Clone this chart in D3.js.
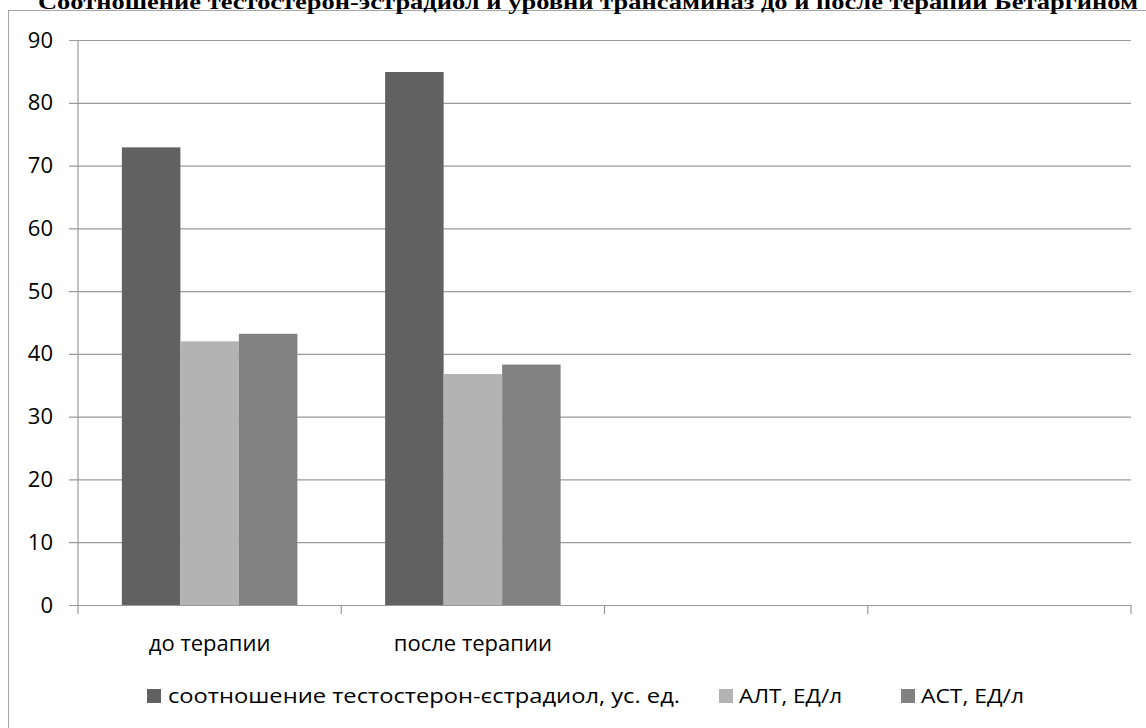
<!DOCTYPE html>
<html>
<head>
<meta charset="utf-8">
<script src="https://cdn.jsdelivr.net/npm/d3@7"></script>
<style>
  html, body { margin: 0; padding: 0; background: #fff; }
  svg { display: block; }
</style>
</head>
<body>
<script>
const titleText = "Соотношение тестостерон-эстрадиол и уровни трансаминаз до и после терапии Бетаргином";
const categories = ["до терапии", "после терапии", "", ""];
const seriesNames = ["соотношение тестостерон-єстрадиол, ус. ед.", "АЛТ, ЕД/л", "АСТ, ЕД/л"];
const ratioValues = [72.9, 84.9, null, null];
const altValues = [42.0, 36.8, null, null];
const astValues = [43.2, 38.3, null, null];
const yTicks = [0, 10, 20, 30, 40, 50, 60, 70, 80, 90];
const seriesColors = ["#616161", "#b3b3b3", "#818181"];

const W = 1146, H = 728;
const svg = d3.select("body").append("svg").attr("width", W).attr("height", H);

// outer chart border
svg.append("rect").attr("x", 8.5).attr("y", 10.5).attr("width", 1150).attr("height", 730)
  .attr("fill", "none").attr("stroke", "#a6a6a6").attr("stroke-width", 1);

// title (cut at the top, as in the reference)
svg.append("text").attr("x", 38).attr("y", 9)
  .attr("font-family", "Liberation Serif, Times New Roman, serif")
  .attr("font-weight", "bold").attr("font-size", 22)
  .attr("textLength", 1100).attr("lengthAdjust", "spacingAndGlyphs")
  .attr("fill", "#000").text(titleText);

const plotL = 78, plotR = 1131, plotT = 40, plotB = 605;
const y = d3.scaleLinear().domain([0, 90]).range([plotB, plotT]);
const x0 = d3.scaleBand().domain(d3.range(categories.length)).range([plotL, plotR]).padding(0);
const x1 = d3.scaleBand().domain(d3.range(seriesNames.length)).range([0, x0.bandwidth()])
  .paddingInner(0).paddingOuter(0.75);

// gridlines + y ticks
const yAxis = d3.axisLeft(y).tickValues(yTicks).tickSize(-(plotR - plotL)).tickSizeOuter(0).tickPadding(25);
const gy = svg.append("g").attr("transform", `translate(${plotL},0)`).call(yAxis);
gy.select(".domain").remove();
gy.selectAll(".tick line").attr("stroke", "#9a9a9a").attr("stroke-width", 1.2).attr("x1", -9);
gy.selectAll(".tick text").attr("font-family", "Open Sans, sans-serif").attr("font-size", 22)
  .attr("fill", "#000").attr("x", -25).attr("text-anchor", "end");

// bars
const seriesData = [ratioValues, altValues, astValues];
seriesData.forEach((vals, si) => {
  svg.append("g").selectAll("rect")
    .data(vals.map((v, ci) => ({ v, ci })).filter(d => d.v != null))
    .join("rect")
    .attr("x", d => x0(d.ci) + x1(si))
    .attr("y", d => y(d.v))
    .attr("width", x1.bandwidth())
    .attr("height", d => y(0) - y(d.v))
    .attr("fill", seriesColors[si]);
});

// y axis line
svg.append("line").attr("x1", plotL).attr("x2", plotL).attr("y1", plotT).attr("y2", plotB)
  .attr("stroke", "#9a9a9a").attr("stroke-width", 1.2);

// x axis
const xAxis = d3.axisBottom(x0).tickValues([]).tickSize(0).tickSizeOuter(0);
const gx = svg.append("g").attr("transform", `translate(0,${plotB})`).call(xAxis);
gx.select(".domain").attr("stroke", "#9a9a9a").attr("stroke-width", 1.2);
const boundaries = d3.range(categories.length + 1).map(i => i < categories.length ? x0(i) : plotR);
gx.selectAll("line.tk").data(boundaries).join("line").attr("class", "tk")
  .attr("x1", d => d).attr("x2", d => d).attr("y1", 0).attr("y2", 9)
  .attr("stroke", "#9a9a9a").attr("stroke-width", 1.2);
gx.selectAll("text.cat").data(categories).join("text").attr("class", "cat")
  .attr("x", (d, i) => x0(i) + x0.bandwidth() / 2).attr("y", 46)
  .attr("text-anchor", "middle").attr("font-family", "Open Sans, sans-serif")
  .attr("font-size", 22).attr("fill", "#000").text(d => d);

// legend
const legendItems = [
  { sx: 147, tx: 168, tw: 512 },
  { sx: 719, tx: 739, tw: 103 },
  { sx: 901, tx: 921, tw: 103 }
];
const lg = svg.append("g");
seriesNames.forEach((name, i) => {
  const it = legendItems[i];
  lg.append("rect").attr("x", it.sx).attr("y", 689).attr("width", 14).attr("height", 14)
    .attr("fill", seriesColors[i]);
  lg.append("text").attr("x", it.tx).attr("y", 703)
    .attr("font-family", "Open Sans, sans-serif").attr("font-size", 20)
    .attr("textLength", it.tw).attr("lengthAdjust", "spacingAndGlyphs")
    .attr("fill", "#000").text(name);
});
</script>
</body>
</html>
